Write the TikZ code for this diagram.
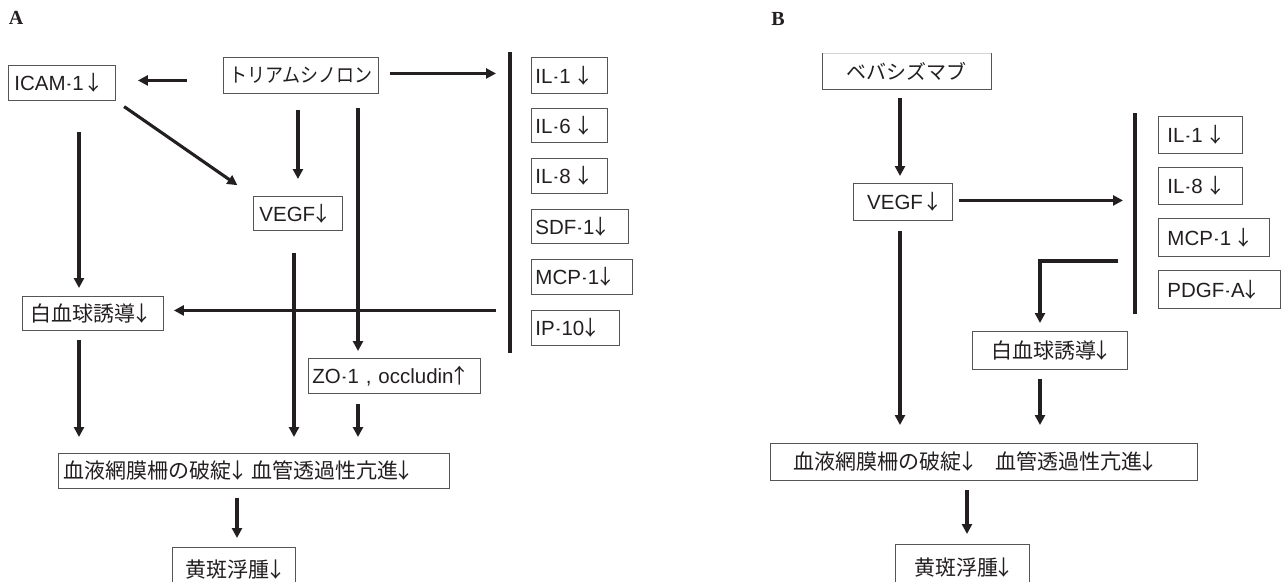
\documentclass[tikz,border=0pt]{standalone}
\usepackage{fontspec}
\usepackage{graphicx}
\usetikzlibrary{arrows.meta}
\newfontfamily\cjk{Noto Sans CJK JP}
\newfontfamily\lat{Liberation Sans}
\newfontfamily\panelfont{Liberation Serif}
\definecolor{ink}{RGB}{35,31,32}
\definecolor{edge}{RGB}{85,85,85}
% narrow arrows taken from the Japanese font
\newcommand\dnarr{{\cjk\kern-0.2em ↓\kern-0.2em}}
\newcommand\uparr{{\cjk\kern-0.2em ↑\kern-0.2em}}
% short hyphen used in the cytokine names
\newcommand\hy{\kern1.5pt\scalebox{0.55}[1]{-}\kern1.5pt}
\begin{document}
\begin{tikzpicture}[x=1pt,y=-1pt,
  box/.style={draw=edge,line width=0.9pt,inner sep=0pt,anchor=north west,text=ink},
  jp/.style={font=\cjk\fontsize{21}{24}\selectfont},
  en/.style={font=\lat\fontsize{20.5}{24}\selectfont},
  panel/.style={font=\panelfont\bfseries\fontsize{20}{22}\selectfont,text=ink,inner sep=0pt},
  link/.style={draw=ink,line width=3.1pt,-{Triangle[length=10pt,width=10pt]}},
  bar/.style={draw=ink,line width=4.6pt}]
\fill[white] (0,0) rectangle (1285,581);
\useasboundingbox (0,0) rectangle (1285,581);

% ---------------- panel A ----------------
\node[panel] (labA) at (16,18) {A};
\node[box,en,text width=95,inner xsep=6,minimum height=35,align=left] (icam) at (8,65) {ICAM\hy1\,\dnarr};
\node[box,jp,minimum width=155,minimum height=36] (tria) at (223,57) {\scalebox{0.9}[1]{\fontsize{20}{24}\selectfont トリアムシノロン}};
\node[box,en,text width=77,inner xsep=6,minimum height=34,align=left] (vegfA) at (253,196) {VEGF\dnarr};
\node[box,en,text width=68,inner xsep=4,minimum height=36,align=left] (ilA1) at (531,57) {IL\hy1 \dnarr};
\node[box,en,text width=68,inner xsep=4,minimum height=34,align=left] (ilA6) at (531,108) {IL\hy6 \dnarr};
\node[box,en,text width=68,inner xsep=4,minimum height=35,align=left] (ilA8) at (531,158) {IL\hy8 \dnarr};
\node[box,en,text width=89,inner xsep=4,minimum height=34,align=left] (sdf) at (531,209) {SDF\hy1\dnarr};
\node[box,en,text width=93,inner xsep=4,minimum height=35,align=left] (mcpA) at (531,259) {MCP\hy1\dnarr};
\node[box,en,text width=80,inner xsep=4,minimum height=35,align=left] (ip) at (531,310) {IP\hy10\dnarr};
\node[box,jp,text width=125,inner xsep=8,minimum height=34,align=left] (wbcA) at (22,296) {白血球誘導\dnarr};
\node[box,en,text width=164,inner xsep=4,minimum height=35,align=left] (zo) at (308,358) {ZO\hy1 , occludin\uparr};
\node[box,jp,text width=381,inner xsep=5,minimum height=35,align=left] (brbA) at (58,453) {血液網膜柵の破綻\dnarr\hspace{7pt}血管透過性亢進\dnarr};
\node[box,jp,minimum width=123,minimum height=44] (edemaA) at (172,547) {黄斑浮腫\dnarr};

\coordinate (barAtop) at (510,52);
\coordinate (barAbot) at (510,353);
\coordinate (colL) at (79,0);
\coordinate (colV) at (294,0);
\coordinate (colT) at (358,0);
\coordinate (colE) at (237,0);
\draw[bar] (barAtop) -- (barAbot);

\draw[link,shorten <=36pt,shorten >=22pt] ([yshift=-5pt]tria.west) -- ([yshift=2.5pt]icam.east);
\draw[link,shorten <=11pt,shorten >=14pt] ([yshift=2pt]tria.east) -- ([yshift=2pt]tria.east -| barAtop);
\draw[link,shorten <=10pt,shorten >=19pt] (icam.south east) -- (vegfA.north west);
\draw[link,shorten <=16pt,shorten >=17pt] (tria.south -| vegfA.north) -- (vegfA.north);
\draw[link,shorten <=14pt,shorten >=7pt] (tria.south -| colT) -- (zo.north -| colT);
\draw[link,shorten <=31pt,shorten >=8pt] (icam.south -| colL) -- (wbcA.north -| colL);
\draw[link,shorten <=14pt,shorten >=10pt] ([yshift=3pt]wbcA.east -| barAbot) -- ([yshift=3pt]wbcA.east);
\draw[link,shorten <=22pt,shorten >=16pt] (vegfA.south -| colV) -- (brbA.north -| colV);
\draw[link,shorten <=10pt,shorten >=16pt] (zo.south -| colT) -- (brbA.north -| colT);
\draw[link,shorten <=9pt,shorten >=16pt] (wbcA.south -| colL) -- (brbA.north -| colL);
\draw[link,shorten <=9pt,shorten >=9pt] (brbA.south -| colE) -- (edemaA.north -| colE);

% ---------------- panel B ----------------
\node[panel] (labB) at (778,19) {B};
\node[jp,text=ink,inner sep=0pt,anchor=north west,minimum width=169,minimum height=36] (beva) at (822,53) {\fontsize{20}{24}\selectfont ベバシズマブ};
\draw[edge!25,line width=0.9pt] (beva.north west) -- (beva.north east);
\draw[edge,line width=0.9pt] (beva.north west) -- (beva.south west) -- (beva.south east) -- (beva.north east);
\node[box,en,minimum width=99,minimum height=37] (vegfB) at (853,183) {VEGF\,\dnarr};
\node[box,en,text width=66,inner xsep=9,minimum height=37,align=left] (ilB1) at (1158,116) {IL\hy1 \dnarr};
\node[box,en,text width=66,inner xsep=9,minimum height=37,align=left] (ilB8) at (1158,167) {IL\hy8 \dnarr};
\node[box,en,text width=93,inner xsep=9,minimum height=38,align=left] (mcpB) at (1158,218) {MCP\hy1 \dnarr};
\node[box,en,text width=104,inner xsep=9,minimum height=38,align=left] (pdgf) at (1158,270) {PDGF\hy A\dnarr};
\node[box,jp,minimum width=155,minimum height=38] (wbcB) at (972,331) {白血球誘導\dnarr};
\node[box,jp,text width=381,inner xsep=23,minimum height=37,align=left] (brbB) at (770,443) {血液網膜柵の破綻\dnarr\hspace{21pt}血管透過性亢進\dnarr};
\node[box,jp,minimum width=134,minimum height=46] (edemaB) at (895,544) {黄斑浮腫\dnarr};

\coordinate (barBtop) at (1135,113);
\coordinate (barBbot) at (1135,314);
\coordinate (elb) at (1135,261);
\coordinate (colB1) at (900,0);
\coordinate (colB2) at (1040,0);
\coordinate (colB3) at (967,0);
\draw[bar] (barBtop) -- (barBbot);

\draw[link,shorten <=9pt,shorten >=7pt] (beva.south -| colB1) -- (vegfB.north -| colB1);
\draw[link,shorten <=6pt,shorten >=12pt] ([yshift=1.5pt]vegfB.east) -- ([yshift=1.5pt]vegfB.east -| barBtop);
\draw[link,shorten <=17pt,shorten >=8pt] (elb) -| (wbcB.north -| colB2);
\draw[link,shorten <=10pt,shorten >=18pt] (vegfB.south -| colB1) -- (brbB.north -| colB1);
\draw[link,shorten <=9pt,shorten >=18pt] (wbcB.south -| colB2) -- (brbB.north -| colB2);
\draw[link,shorten <=9pt,shorten >=10pt] (brbB.south -| colB3) -- (edemaB.north -| colB3);
\end{tikzpicture}
\end{document}
